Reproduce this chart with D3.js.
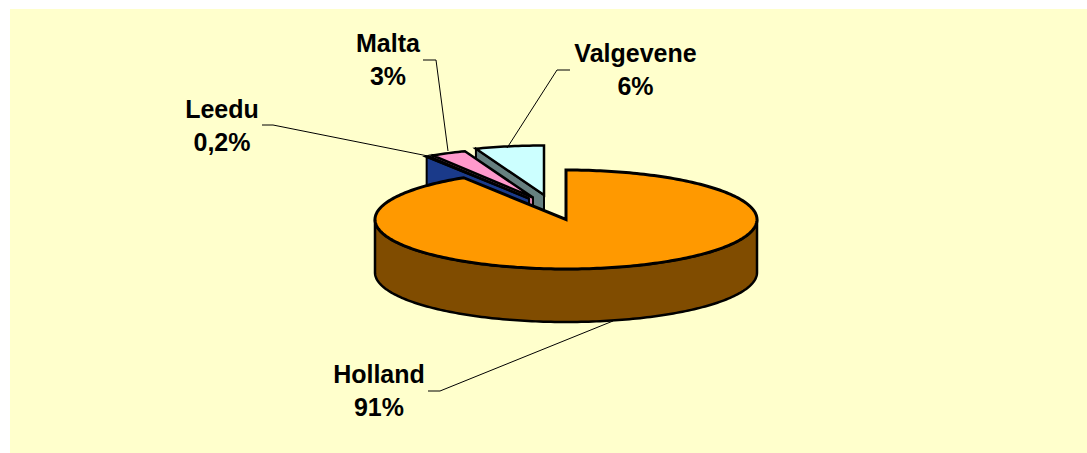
<!DOCTYPE html>
<html><head><meta charset="utf-8">
<script src="https://cdn.jsdelivr.net/npm/d3@7"></script>
<style>html,body{margin:0;padding:0;background:#fff}svg{display:block}</style>
</head><body><svg id="c" width="1087" height="453"></svg>
<script>
const categories = ["Holland","Leedu","Malta","Valgevene"];
const values = [91,0.2,3,5.8];
const valueLabels = ["91%","0,2%","3%","6%"];
const topColors = ["#ff9900","#1a3a8a","#ff99cc","#ccffff"];
const wallColors = ["#804c00","#1a3a8a","#d987b0","#668080"];

const svg=d3.select("#c");
svg.append("rect").attr("x",10).attr("y",9).attr("width",1077).attr("height",444).attr("fill","#ffffcc");

const cx=566,cy=219.5,rx=191,ry=49.5,depth=53;
const explode=[[0,0],[-37,-21],[-33,-22],[-22,-24.5]];
const pie=d3.pie().sort(null).value(d=>d)(values);
const pt=(a,ox,oy,h=0)=>[cx+ox+rx*Math.sin(a),cy+oy-ry*Math.cos(a)+h];
const line=d3.line();
function arcPts(a0,a1,ox,oy,h=0){
  const n=Math.max(2,Math.ceil(Math.abs(a1-a0)/0.02));
  return d3.range(n+1).map(i=>pt(a0+(a1-a0)*i/n,ox,oy,h));
}
const g=svg.append("g").attr("stroke","#000").attr("stroke-linejoin","miter");
[3,2,1,0].forEach(i=>{
  const p=pie[i],[ox,oy]=explode[i];
  const apex=[cx+ox,cy+oy];
  if(i>0){
    const r=pt(p.startAngle,ox,oy);
    g.append("path").attr("d",line([apex,r,[r[0],r[1]+depth],[apex[0],apex[1]+depth]])+"Z")
      .attr("fill",wallColors[i]).attr("stroke-width",2);
  } else {
    const front=arcPts(Math.PI/2,3*Math.PI/2,ox,oy);
    const back=arcPts(3*Math.PI/2,Math.PI/2,ox,oy,depth);
    g.append("path").attr("d",line(front.concat(back))+"Z")
      .attr("fill",wallColors[0]).attr("stroke-width",2.5);
  }
  const top=[apex].concat(arcPts(p.startAngle,p.endAngle,ox,oy));
  g.append("path").attr("d",line(top)+"Z").attr("fill",i===1?"#000":topColors[i])
    .attr("stroke-width",i===0?3:2.5);
});

const leaders=[
  [[428,391],[440,391],[613,321]],
  [[262,125],[273,125],[428,156]],
  [[423,60],[436,60],[448,151]],
  [[570,70],[557,70],[507,148]]
];
const leaderG=svg.append("g").attr("fill","none").attr("stroke","#000").attr("stroke-width",1);
leaders.forEach(l=>leaderG.append("path").attr("d",line(l)));

const labelPos=[[379,383],[222,118],[388,52],[635.5,62]];
const tg=svg.append("g").attr("font-family","'Liberation Sans',Arial,sans-serif")
  .attr("font-weight","bold").attr("font-size","25px").attr("text-anchor","middle").attr("fill","#000");
categories.forEach((c,i)=>{
  const [x,y]=labelPos[i];
  tg.append("text").attr("x",x).attr("y",y).text(c);
  tg.append("text").attr("x",x).attr("y",y+33).text(valueLabels[i]);
});
</script></body></html>
